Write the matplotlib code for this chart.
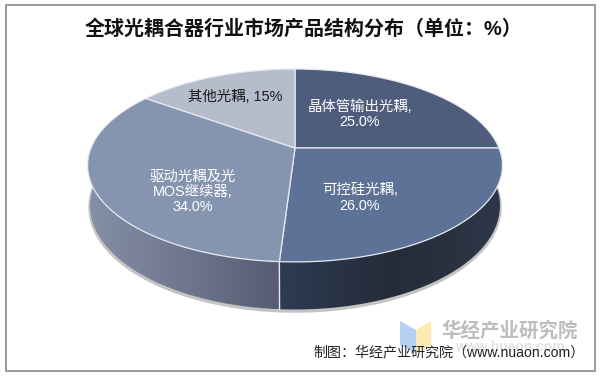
import numpy as np
import matplotlib
matplotlib.use('Agg')
import matplotlib.pyplot as plt
from matplotlib.colors import LinearSegmentedColormap
from matplotlib.patches import Polygon, Rectangle

plt.rcParams['font.family'] = ['Liberation Sans', 'Noto Sans CJK SC']

# 数据
categories = ['晶体管输出光耦', '可控硅光耦', '驱动光耦及光MOS继续器', '其他光耦']
values = [25, 26, 34, 15]
slice_labels = ['晶体管输出光耦,\n25.0%', '可控硅光耦,\n26.0%', '驱动光耦及光\nMOS继续器,\n34.0%', '其他光耦, 15%']
colors = ['#4F5D7C', '#5E7196', '#8695AF', '#B5BCCB']

title = '全球光耦合器行业市场产品结构分布（单位：%）'
source = '制图：华经产业研究院（www.nuaon.com）'
watermark = '华经产业研究院'
watermark_url = 'www.huaon.com'

# 透视饼图参数
cx, cy = 295, 148
a, b, k = 204, 93.3, 0.181
depth = 39


def top_rim(t):
    d = 1 + k * np.cos(t)
    return cx + a * np.sin(t) / d, cy - b * np.cos(t) / d


def low_rim(t):
    x, y = top_rim(t)
    return cx + (x - cx) * 0.988, y + depth / (1 + k * np.cos(t))


fig = plt.figure(figsize=(6, 3.76), dpi=100)
ax = fig.add_axes([0, 0, 1, 1])
ax.set_xlim(0, 600)
ax.set_ylim(376, 0)
ax.axis('off')

# 外框
ax.add_patch(Rectangle((5.5, 4.5), 589, 366, fill=False, ec='#8a8a8a', lw=1.2))

ax.text(304, 29, title, ha='center', va='center', fontsize=14.4, fontweight='bold', color='#111111')

fracs = np.cumsum([0] + values) / sum(values) * 2 * np.pi

# 阴影
t_front = np.linspace(np.pi / 2, 3 * np.pi / 2, 200)
sx, sy = low_rim(t_front)
ax.plot(sx, sy + 1.5, color='#c4c4c4', lw=2.5, zorder=1)


def side_patch(t0, t1, cmap_colors):
    t = np.linspace(t0, t1, 150)
    x1, y1 = top_rim(t)
    x2, y2 = low_rim(t)
    xs = np.r_[x1, x2[::-1]]
    ys = np.r_[y1, y2[::-1]]
    cmap = LinearSegmentedColormap.from_list('side', cmap_colors)
    grad = np.linspace(0, 1, 256).reshape(1, -1)
    im = ax.imshow(grad, cmap=cmap, aspect='auto', zorder=2,
                   extent=[xs.min(), xs.max(), ys.max(), ys.min()])
    clip = Polygon(np.c_[xs, ys], closed=True, transform=ax.transData, fc='none', ec='none')
    ax.add_patch(clip)
    im.set_clip_path(clip)


# 侧面
split = fracs[2]
side_patch(split, 3 * np.pi / 2, ['#858FA6', '#6E778D', '#565D72'])
side_patch(np.pi / 2, split, ['#2E3B53', '#242C39', '#2E3748'])
ax.set_xlim(0, 600)
ax.set_ylim(376, 0)

# 侧面分隔线
x1, y1 = top_rim(split)
x2, y2 = low_rim(split)
ax.plot([x1, x2], [y1, y2], color='#e8eaee', lw=1, zorder=3)

# 顶面
for i in range(len(values)):
    t = np.linspace(fracs[i], fracs[i + 1], 120)
    x, y = top_rim(t)
    pts = np.c_[np.r_[cx, x], np.r_[cy, y]]
    ax.add_patch(Polygon(pts, closed=True, fc=colors[i], ec='#e6e9ef', lw=0.9, zorder=4))

# 标签
label_pos = [(360, 114), (360, 198), (193, 192), (235, 97)]
label_colors = ['white', 'white', 'white', '#1a1a1a']
for txt, pos, c in zip(slice_labels, label_pos, label_colors):
    ax.text(pos[0], pos[1], txt, ha='center', va='center', fontsize=10.4, color=c,
            linespacing=1.1, zorder=5)

# 水印
ax.add_patch(Polygon([(400, 321), (416, 330), (416, 353), (400, 345)], fc='#B5D0F2', ec='none', zorder=1))
ax.add_patch(Polygon([(416, 330), (431, 321), (431, 345), (416, 353)], fc='#FBEBB0', ec='none', zorder=1))
ax.text(510, 331, watermark, ha='center', va='center', fontsize=14, fontweight='bold', color='#bdbdbd', zorder=1)
ax.text(510, 347, watermark_url, ha='center', va='center', fontsize=10, fontweight='bold', color='#e2e2e2', zorder=1)

ax.text(313, 352, source, ha='left', va='center', fontsize=10.1, color='#222222', zorder=6)

fig.savefig('out.png', dpi=100)
